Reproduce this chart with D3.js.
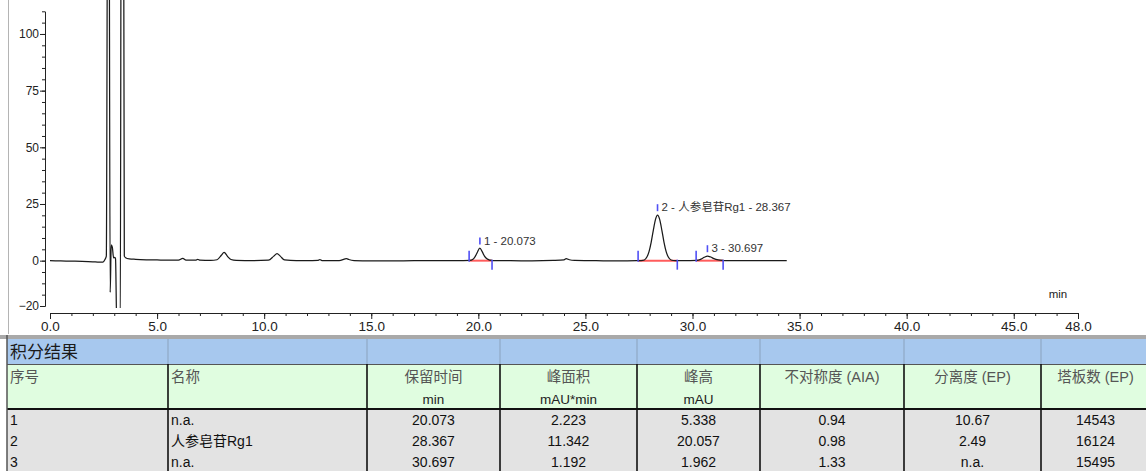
<!DOCTYPE html>
<html>
<head>
<meta charset="utf-8">
<script src="https://cdn.jsdelivr.net/npm/d3@7"></script>
<style>
  html, body { margin: 0; padding: 0; background: #fff; }
  svg { display: block; }
  text { font-family: "Liberation Sans", Arial, "Noto Sans CJK SC", sans-serif; }
</style>
</head>
<body>
<script>
// ---------------- DATA ----------------
// chromatogram trace: [time (min), signal (mAU)]
const traceData = [
  [0.0, 0.0], [0.5, -0.1], [1.0, -0.2], [1.5, -0.3], [2.0, -0.5], [2.3, -0.7], [2.47, -0.6],
  [2.56, 0.4], [2.63, 2.0], [2.70, 200], [2.75, 200], [2.81, -14], [2.86, 7], [2.91, 6],
  [2.97, 1.2], [3.03, 1.5], [3.06, 0.8], [3.12, -30], [3.28, -30], [3.33, 200], [3.43, 200],
  [3.47, 2.0], [3.53, 1.3], [3.7, 0.8], [4.0, 0.6], [4.5, 0.4], [5.0, 0.3], [5.5, 0.2],
  [6.0, 0.2], [6.2, 1.0], [6.35, 0.2], [6.8, 0.2], [6.9, 0.6], [7.0, 0.2], [7.5, 0.1],
  [7.8, 0.4], [8.0, 2.4], [8.13, 3.7], [8.28, 2.0], [8.45, 0.5], [8.7, 0.1], [9.5, 0.0],
  [10.2, 0.2], [10.45, 2.0], [10.6, 3.1], [10.75, 2.0], [10.95, 0.3], [11.5, 0.0],
  [12.0, 0.0], [12.5, 0.1], [12.6, 0.5], [12.7, 0.0], [13.5, 0.0], [13.85, 0.9],
  [13.95, 0.5], [14.2, 0.0], [15.0, -0.1], [16.0, -0.1], [17.0, 0.0], [18.0, 0.0],
  [19.0, 0.0], [19.6, 0.1], [19.75, 0.6], [19.85, 1.8], [19.95, 3.6], [20.07, 5.5],
  [20.18, 4.0], [20.28, 2.1], [20.4, 0.8], [20.55, 0.2], [20.7, 0.0], [21.5, 0.0],
  [22.5, -0.1], [23.5, 0.1], [24.0, 0.4], [24.1, 0.9], [24.25, 0.4], [24.5, 0.1],
  [25.5, 0.0], [26.5, -0.1], [27.4, 0.0], [27.6, 0.05], [27.75, 0.3], [27.87, 1.6],
  [27.97, 4.0], [28.07, 8.1], [28.17, 13.4], [28.27, 18.1], [28.367, 20.1], [28.47, 18.1],
  [28.57, 13.4], [28.67, 8.1], [28.77, 4.0], [28.87, 1.6], [29.0, 0.3], [29.2, 0.05],
  [29.6, 0.0], [30.2, 0.1], [30.4, 0.7], [30.55, 1.5], [30.7, 2.0], [30.85, 1.6],
  [31.0, 0.9], [31.2, 0.35], [31.4, 0.1], [31.6, 0.0], [32.5, 0.0], [33.5, 0.0], [34.4, 0.0]
];

// y axis / x axis tick labels
const yTickValues = [-20, 0, 25, 50, 75, 100];
const xTickValues = [0, 5, 10, 15, 20, 25, 30, 35, 40, 45, 48];

// integration results
const peakNumbers = [1, 2, 3];
const peakNames = ["n.a.", "人参皂苷Rg1", "n.a."];
const retentionTimes = [20.073, 28.367, 30.697];
const peakAreas = [2.223, 11.342, 1.192];
const peakHeights = [5.338, 20.057, 1.962];
const asymmetry = [0.94, 0.98, 1.33];
const resolutionEP = ["10.67", "2.49", "n.a."];
const platesEP = [14543, 16124, 15495];
const peakStarts = [19.57, 27.46, 30.17];
const peakEnds = [20.64, 29.29, 31.43];

const tableTitle = "积分结果";
const columnHeaders = ["序号", "名称", "保留时间", "峰面积", "峰高", "不对称度 (AIA)", "分离度 (EP)", "塔板数 (EP)"];
const columnUnits = ["", "", "min", "mAU*min", "mAU", "", "", ""];

// ---------------- DRAW ----------------
const W = 1146, H = 471;
const svg = d3.select("body").append("svg").attr("width", W).attr("height", H);
const cjk = '"Liberation Sans", Arial, "Noto Sans CJK SC", sans-serif';

const x = d3.scaleLinear().domain([0, 48]).range([50, 1078]);
const y = d3.scaleLinear().domain([-20, 110]).range([306, 11.3]);

// chart panel left border
svg.append("line").attr("x1", 8.5).attr("x2", 8.5).attr("y1", 0).attr("y2", 334)
  .attr("stroke", "#b4b4b4").attr("stroke-width", 1);

// Y axis
const yAxisMinor = d3.axisLeft(y).tickValues(d3.range(-20, 111, 5)).tickSize(3).tickSizeOuter(0).tickFormat("");
const yAxis = d3.axisLeft(y).tickValues(yTickValues).tickSize(5).tickSizeOuter(0).tickFormat(d3.format("d"));
const gyMinor = svg.append("g").attr("transform", "translate(45,0)").call(yAxisMinor);
const gy = svg.append("g").attr("transform", "translate(45,0)").call(yAxis);
gy.selectAll("text").attr("font-size", 12).attr("fill", "#222").attr("x", -6);
[gy, gyMinor].forEach(g => { g.selectAll("line").attr("stroke", "#222"); g.select(".domain").attr("stroke", "#222"); });

// X axis
const xAxisMinor = d3.axisBottom(x).tickValues(d3.range(0, 49, 1)).tickSize(3).tickSizeOuter(0).tickFormat("");
const xAxis = d3.axisBottom(x).tickValues(xTickValues).tickSize(6).tickSizeOuter(0).tickFormat(d3.format(".1f"));
const gxMinor = svg.append("g").attr("transform", "translate(0,313)").call(xAxisMinor);
const gx = svg.append("g").attr("transform", "translate(0,313)").call(xAxis);
gx.selectAll("text").attr("font-size", 13.5).attr("fill", "#222").attr("y", 8);
[gx, gxMinor].forEach(g => { g.selectAll("line").attr("stroke", "#222"); g.select(".domain").attr("stroke", "#222"); });

svg.append("text").attr("x", 1058).attr("y", 298).attr("text-anchor", "middle")
  .attr("font-size", 11.5).attr("fill", "#222").text("min");

// clip for trace
svg.append("defs").append("clipPath").attr("id", "plotclip")
  .append("rect").attr("x", 46).attr("y", 0).attr("width", 1034).attr("height", 308);

// red integration baselines
const peaks = peakNumbers.map((n, i) => ({
  n, name: peakNames[i], rt: retentionTimes[i], h: peakHeights[i], s: peakStarts[i], e: peakEnds[i]
}));
svg.append("g").selectAll("line").data(peaks).join("line")
  .attr("x1", d => x(d.s)).attr("x2", d => x(d.e))
  .attr("y1", y(0)).attr("y2", y(0))
  .attr("stroke", "#ff5c5c").attr("stroke-width", 2);

// trace
const line = d3.line().x(d => x(d[0])).y(d => y(d[1])).curve(d3.curveMonotoneX);
svg.append("path").datum(traceData).attr("clip-path", "url(#plotclip)")
  .attr("d", line).attr("fill", "none").attr("stroke", "#1a1a1a").attr("stroke-width", 1.25);

// blue peak markers
const mk = svg.append("g").attr("stroke", "#5050f5").attr("stroke-width", 1.6);
mk.selectAll(".ms").data(peaks).join("line").attr("class", "ms")
  .attr("x1", d => x(d.s)).attr("x2", d => x(d.s)).attr("y1", y(0) - 10).attr("y2", y(0) + 1);
mk.selectAll(".me").data(peaks).join("line").attr("class", "me")
  .attr("x1", d => x(d.e)).attr("x2", d => x(d.e)).attr("y1", y(0) - 1).attr("y2", y(0) + 9);
mk.selectAll(".ma").data(peaks).join("line").attr("class", "ma")
  .attr("x1", d => x(d.rt)).attr("x2", d => x(d.rt)).attr("y1", d => y(d.h) - 11).attr("y2", d => y(d.h) - 4);

// peak labels
svg.append("g").selectAll("text").data(peaks).join("text")
  .attr("x", d => x(d.rt) + 4).attr("y", d => y(d.h) - 4)
  .attr("font-size", 11.5).attr("fill", "#333").style("font-family", cjk)
  .text(d => d.name === "n.a." ? `${d.n} - ${d.rt.toFixed(3)}` : `${d.n} - ${d.name} - ${d.rt.toFixed(3)}`);

// ---------------- TABLE ----------------
const colEdges = [7, 168, 367, 500, 637, 760, 904, 1041, 1150];
const tg = svg.append("g");
const tTop = 339, tBlueBot = 364, tGreenBot = 409;
tg.append("rect").attr("x", 0).attr("y", 335).attr("width", W).attr("height", 4).attr("fill", "#a9a9a9");
tg.append("rect").attr("x", colEdges[0]).attr("y", tTop).attr("width", W - colEdges[0]).attr("height", tBlueBot - tTop).attr("fill", "#a7c8ee");
tg.append("rect").attr("x", colEdges[0]).attr("y", tBlueBot).attr("width", W - colEdges[0]).attr("height", tGreenBot - tBlueBot).attr("fill", "#e0fde0");
tg.append("rect").attr("x", colEdges[0]).attr("y", tGreenBot).attr("width", W - colEdges[0]).attr("height", H - tGreenBot).attr("fill", "#e3e3e3");
tg.append("line").attr("x1", colEdges[0]).attr("x2", W).attr("y1", tBlueBot + 0.5).attr("y2", tBlueBot + 0.5).attr("stroke", "#555").attr("stroke-width", 1);
tg.append("line").attr("x1", colEdges[0]).attr("x2", W).attr("y1", tGreenBot).attr("y2", tGreenBot).attr("stroke", "#111").attr("stroke-width", 2);
// column separators
tg.selectAll(".cb").data(colEdges.slice(1, -1)).join("line").attr("class", "cb")
  .attr("x1", d => d).attr("x2", d => d).attr("y1", tTop).attr("y2", tBlueBot)
  .attr("stroke", "#8aa2bd").attr("stroke-width", 1);
tg.selectAll(".cs").data(colEdges.slice(1, -1)).join("line").attr("class", "cs")
  .attr("x1", d => d).attr("x2", d => d).attr("y1", tBlueBot).attr("y2", H)
  .attr("stroke", "#111").attr("stroke-width", 1.6);
tg.append("line").attr("x1", colEdges[0]).attr("x2", colEdges[0]).attr("y1", 335).attr("y2", H)
  .attr("stroke", "#555").attr("stroke-width", 1.5);

tg.append("text").attr("x", 10).attr("y", 352).attr("dy", "0.36em")
  .attr("font-size", 17).attr("fill", "#1a1a1a").style("font-family", cjk).text(tableTitle);

function colX(i) { return i < 2 ? colEdges[i] + 3 : (colEdges[i] + colEdges[i + 1]) / 2; }
function colAnchor(i) { return i < 2 ? "start" : "middle"; }

tg.selectAll(".hd").data(columnHeaders).join("text").attr("class", "hd")
  .attr("x", (d, i) => colX(i)).attr("y", 377).attr("dy", "0.36em")
  .attr("text-anchor", (d, i) => colAnchor(i))
  .attr("font-size", 14.5).attr("fill", "#555").style("font-family", cjk).text(d => d);
tg.selectAll(".un").data(columnUnits).join("text").attr("class", "un")
  .attr("x", (d, i) => colX(i)).attr("y", 399).attr("dy", "0.36em")
  .attr("text-anchor", (d, i) => colAnchor(i))
  .attr("font-size", 13.5).attr("fill", "#222").text(d => d);

const rows = peakNumbers.map((n, i) => [
  String(n), peakNames[i], retentionTimes[i].toFixed(3), peakAreas[i].toFixed(3),
  peakHeights[i].toFixed(3), asymmetry[i].toFixed(2), resolutionEP[i], String(platesEP[i])
]);
const rowCenters = [420, 441, 462];
rows.forEach((r, ri) => {
  tg.selectAll(".r" + ri).data(r).join("text").attr("class", "r" + ri)
    .attr("x", (d, i) => colX(i)).attr("y", rowCenters[ri]).attr("dy", "0.36em")
    .attr("text-anchor", (d, i) => colAnchor(i))
    .attr("font-size", 14).attr("fill", "#111").style("font-family", cjk).text(d => d);
});
</script>
</body>
</html>
